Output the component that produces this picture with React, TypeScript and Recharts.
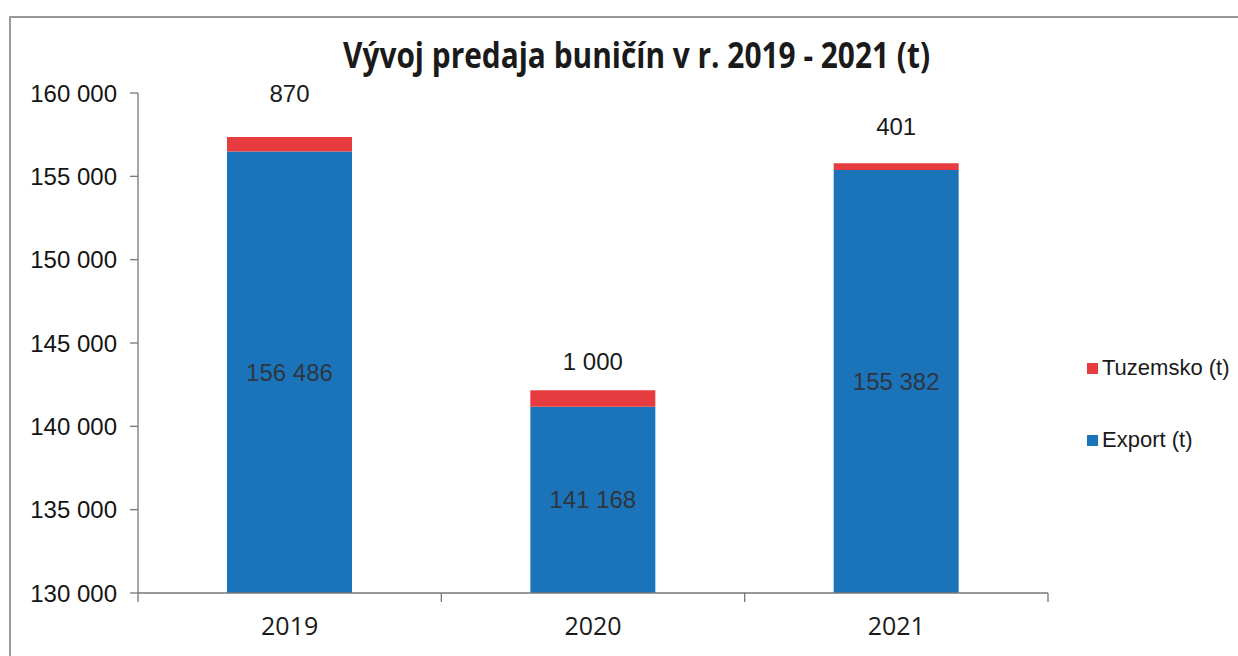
import { BarChart, Bar, XAxis, YAxis, Legend, LabelList } from 'recharts';

const CATEGORIES = ['2019', '2020', '2021'];
const EXPORT_T = [156486, 141168, 155382];
const TUZEMSKO_T = [870, 1000, 401];
const Y_TICKS = [130000, 135000, 140000, 145000, 150000, 155000, 160000];

const TITLE = 'Vývoj predaja buničín v r. 2019 - 2021 (t)';
const BLUE = '#1B74BA';
const RED = '#E63B3F';

const W = 1238;
const H = 656;
const M = { top: 93, right: 190, left: 0, bottom: 0 };
const Y_AXIS_W = 138;
const X_AXIS_H = 63;
const PLOT_BOTTOM = H - X_AXIS_H;
const BAND = (W - Y_AXIS_W - M.right) / CATEGORIES.length;
// how far the domestic labels sit above their bar tops
const LIFT = [44, 29, 37];

const data = CATEGORIES.map((year, i) => ({
  year,
  export: EXPORT_T[i],
  tuzemsko: TUZEMSKO_T[i],
}));

const fmt = (v: number) => String(v).replace(/\B(?=(\d{3})+(?!\d))/g, ' ');

const XTick = (props: any) => {
  const { x, y, payload, index } = props;
  return (
    <g>
      <line x1={x - BAND / 2} x2={x - BAND / 2} y1={y} y2={y + 9} stroke="#777" strokeWidth={1.3} />
      {index === CATEGORIES.length - 1 && (
        <line x1={x + BAND / 2} x2={x + BAND / 2} y1={y} y2={y + 9} stroke="#777" strokeWidth={1.3} />
      )}
      <text x={x} y={y + 42} textAnchor="middle" fontSize={25} fill="#1a1a1a"
        fontFamily="'Liberation Sans Narrow', 'Open Sans', sans-serif">
        {payload.value}
      </text>
    </g>
  );
};

const TopLabel = (props: any) => {
  const { x, y, width, value, index } = props;
  return (
    <text x={x + width / 2} y={y - LIFT[index]} textAnchor="middle" dominantBaseline="central"
      fontSize={24} fill="#1a1a1a" fontFamily="'Liberation Sans', Arial, sans-serif">
      {fmt(value)}
    </text>
  );
};

const InsideLabel = (props: any) => {
  const { x, y, width, height, value } = props;
  const bottom = Math.min(y + height, PLOT_BOTTOM);
  return (
    <text x={x + width / 2} y={(y + bottom) / 2} textAnchor="middle" dominantBaseline="central"
      fontSize={24} fill="#2e3640" fontFamily="'Liberation Sans', Arial, sans-serif">
      {fmt(value)}
    </text>
  );
};

const LegendBox = () => {
  const items = [
    { label: 'Tuzemsko (t)', color: RED },
    { label: 'Export (t)', color: BLUE },
  ];
  return (
    <div style={{ fontFamily: "'Liberation Sans', Arial, sans-serif", fontSize: 22, color: '#1a1a1a' }}>
      {items.map((it, i) => (
        <div key={it.label} style={{ display: 'flex', alignItems: 'center', height: 24, marginBottom: i === 0 ? 48 : 0 }}>
          <span style={{ width: 11, height: 11, background: it.color, marginRight: 4, display: 'inline-block' }} />
          <span>{it.label}</span>
        </div>
      ))}
    </div>
  );
};

export default function App() {
  return (
    <div style={{ position: 'absolute', left: 0, top: 0, width: W, height: H, background: '#fff', overflow: 'hidden' }}>
      <div style={{ position: 'absolute', left: 9, top: 16, width: W, height: H, borderTop: '2px solid #999', borderLeft: '2px solid #999' }} />
      <svg width={W} height={90} style={{ position: 'absolute', left: 0, top: 0 }}>
        <text x={343} y={68} textLength={587} lengthAdjust="spacingAndGlyphs" fontSize={36} fontWeight="bold"
          fill="#1a1a1a" fontFamily="'Open Sans', sans-serif">
          {TITLE}
        </text>
      </svg>
      <div style={{ position: 'absolute', left: 0, top: 0 }}>
        <BarChart width={W} height={H} data={data} margin={M}>
          <YAxis
            width={Y_AXIS_W}
            domain={[130000, 160000]}
            ticks={Y_TICKS}
            allowDataOverflow
            tickFormatter={fmt}
            tickSize={8}
            tickMargin={13}
            axisLine={{ stroke: '#777', strokeWidth: 1.3 }}
            tickLine={{ stroke: '#777', strokeWidth: 1.3 }}
            tick={{ fontSize: 24, fill: '#141414', fontFamily: "'Liberation Sans', Arial, sans-serif" }}
          />
          <XAxis
            dataKey="year"
            height={X_AXIS_H}
            tickSize={0}
            tickMargin={0}
            tickLine={false}
            axisLine={{ stroke: '#777', strokeWidth: 1.3 }}
            tick={<XTick />}
          />
          <Legend
            layout="vertical"
            align="center"
            verticalAlign="middle"
            wrapperStyle={{ left: 1087, top: 356, width: 151 }}
            content={<LegendBox />}
          />
          <Bar dataKey="export" name="Export (t)" stackId="a" fill={BLUE} barSize={125} isAnimationActive={false}>
            <LabelList dataKey="export" content={<InsideLabel />} />
          </Bar>
          <Bar dataKey="tuzemsko" name="Tuzemsko (t)" stackId="a" fill={RED} barSize={125} isAnimationActive={false}>
            <LabelList dataKey="tuzemsko" content={<TopLabel />} />
          </Bar>
        </BarChart>
      </div>
    </div>
  );
}
